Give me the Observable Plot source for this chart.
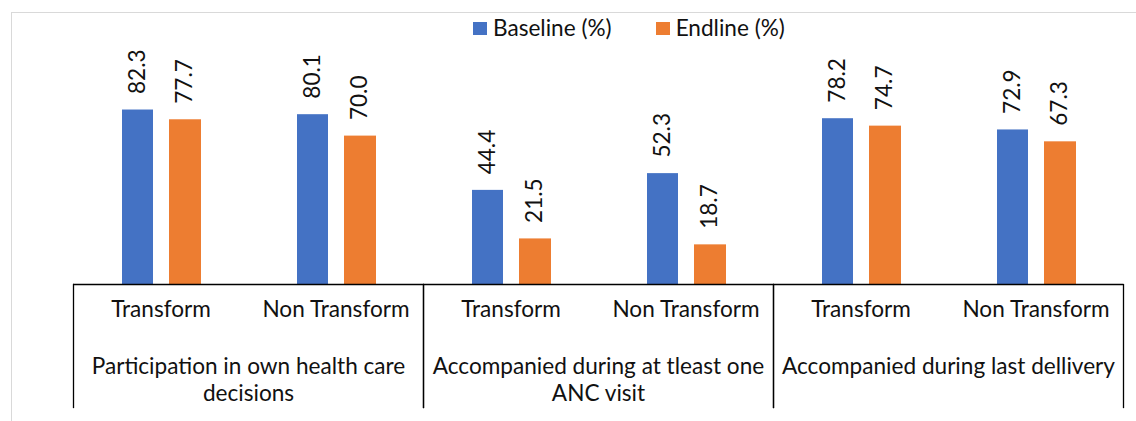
<!DOCTYPE html>
<html><head><meta charset="utf-8">
<script src="https://cdn.jsdelivr.net/npm/d3@7"></script>
<script src="https://cdn.jsdelivr.net/npm/@observablehq/plot@0.6"></script>
<style>
html,body{margin:0;padding:0;background:#fff;overflow:hidden;}
#page{position:relative;width:1136px;height:421px;font-family:Lato,"Noto Sans",sans-serif;color:#111;}
#border{position:absolute;left:11px;top:12px;width:1300px;height:600px;border-left:1px solid #d9d9d9;border-top:1px solid #d9d9d9;pointer-events:none;}
#legend{position:relative;height:44px;}
#legend .row{position:absolute;left:473px;top:16px;display:flex;align-items:center;gap:44px;font-size:22.6px;line-height:24px;}
#legend .item{display:flex;align-items:center;gap:6px;}
#legend .sw{width:14px;height:13px;display:inline-block;}
#chart svg{display:block;overflow:visible;}
</style></head><body>
<div id="page"><div id="border"></div><div id="legend"><div class="row"></div></div><div id="chart"></div></div>
<script>
const categories = ["Participation in own health care decisions", "Accompanied during at tleast one ANC visit", "Accompanied during last dellivery"];
const categoryLabels = ["Participation in own health care\ndecisions", "Accompanied during at tleast one\nANC visit", "Accompanied during last dellivery"];
const subgroups = ["Transform", "Non Transform"];
const series = ["Baseline (%)", "Endline (%)"];
const colors = ["#4472C4", "#ED7D31"];
const baseline = [82.3, 80.1, 44.4, 52.3, 78.2, 72.9];
const endline = [77.7, 70.0, 21.5, 18.7, 74.7, 67.3];

const rows = [];
categories.forEach((c, ci) => subgroups.forEach((s, si) => {
  const k = ci * 2 + si;
  rows.push({cat: c, sub: s, series: series[0], value: baseline[k]});
  rows.push({cat: c, sub: s, series: series[1], value: endline[k]});
}));
const subRows = [];
categories.forEach(c => subgroups.forEach(s => subRows.push({cat: c, sub: s})));
const catRows = categories.map((c, i) => ({cat: c, label: categoryLabels[i]}));

// legend
const row = document.querySelector("#legend .row");
series.forEach((s, i) => {
  const it = document.createElement("div"); it.className = "item";
  const sw = document.createElement("span"); sw.className = "sw"; sw.style.background = colors[i];
  const tx = document.createElement("span"); tx.textContent = s;
  it.append(sw, tx); row.append(it);
});

const fmt = d3.format(".1f");
const font = 22.6;
const barB = rows.filter(d => d.series === series[0]);
const barE = rows.filter(d => d.series === series[1]);

const chart = Plot.plot({
  width: 1136, height: 377,
  marginLeft: 73, marginRight: 13, marginTop: 20, marginBottom: 14,
  style: {fontFamily: 'Lato, "Noto Sans", sans-serif', fontSize: font + "px", color: "#111", background: "transparent"},
  fx: {domain: categories, axis: null, paddingInner: 0, paddingOuter: 0},
  x: {domain: subgroups, axis: null, paddingInner: 0, paddingOuter: 0},
  y: {domain: [0, 100], range: [240, 28], axis: null},
  color: {domain: series, range: colors},
  marks: [
    Plot.barY(barB, {fx: "cat", x: "sub", y: "value", fill: colors[0], insetLeft: 49, insetRight: 95}),
    Plot.barY(barE, {fx: "cat", x: "sub", y: "value", fill: colors[1], insetLeft: 96, insetRight: 47}),
    Plot.text(barB, {fx: "cat", x: "sub", y: "value", text: d => fmt(d.value), rotate: -90, textAnchor: "start", dx: -23, dy: -16, fill: "#111", fontSize: font}),
    Plot.text(barE, {fx: "cat", x: "sub", y: "value", text: d => fmt(d.value), rotate: -90, textAnchor: "start", dx: 24, dy: -16, fill: "#111", fontSize: font}),
    Plot.ruleY([0], {stroke: "#000", strokeWidth: 1.3}),
    Plot.frame({anchor: "left", insetTop: 220, stroke: "#000", strokeWidth: 1.3}),
    Plot.frame({anchor: "right", insetTop: 220, stroke: "#000", strokeWidth: 1.3}),
    Plot.text(subRows, {fx: "cat", x: "sub", text: "sub", frameAnchor: "bottom", dy: -91, fill: "#111", fontSize: font}),
    Plot.text(catRows, {fx: "cat", text: "label", frameAnchor: "bottom", lineAnchor: "top", lineHeight: 1.19, dy: -52.6, fill: "#111", fontSize: font})
  ]
});
document.getElementById("chart").append(chart);
</script>
</body></html>
